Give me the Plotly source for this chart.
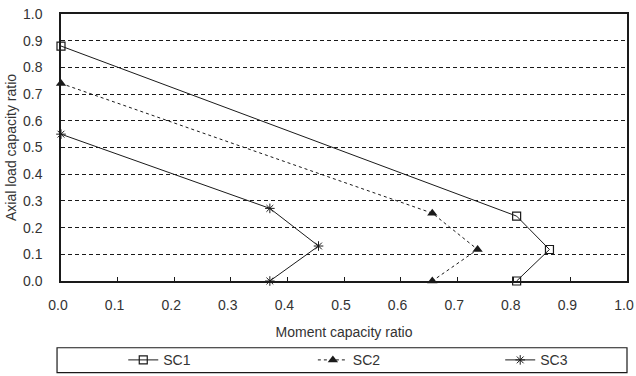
import plotly.graph_objects as go

# Interaction curves: moment capacity ratio vs axial load capacity ratio
sc1_moment = [0.0, 0.805, 0.863, 0.805]
sc1_axial = [0.88, 0.243, 0.118, 0.0]

sc2_moment = [0.0, 0.656, 0.736, 0.656]
sc2_axial = [0.74, 0.254, 0.118, 0.0]

sc3_moment = [0.0, 0.369, 0.455, 0.369]
sc3_axial = [0.55, 0.272, 0.131, 0.0]

tick_vals = [round(i * 0.1, 1) for i in range(11)]
tick_text = [f"{v:.1f}" for v in tick_vals]

FONT = "Liberation Sans, Arial, sans-serif"
INK = "#1a1a1a"
TEXT = "#333333"

fig = go.Figure()
fig.add_trace(go.Scatter(
    x=sc1_moment, y=sc1_axial, name="SC1", mode="lines+markers",
    line=dict(color=INK, width=1),
    marker=dict(symbol="square-open", size=8, color=INK, line=dict(width=1.2)),
    cliponaxis=False, legend="legend",
))
fig.add_trace(go.Scatter(
    x=sc2_moment, y=sc2_axial, name="SC2", mode="lines+markers",
    line=dict(color=INK, width=1, dash="3px,3px"),
    marker=dict(symbol="triangle-up", size=9, color=INK),
    cliponaxis=False, legend="legend2",
))
fig.add_trace(go.Scatter(
    x=sc3_moment, y=sc3_axial, name="SC3", mode="lines+markers",
    line=dict(color=INK, width=1),
    marker=dict(symbol="asterisk-open", size=8, color=INK, line=dict(width=1, color=INK)),
    cliponaxis=False, legend="legend3",
))

axis_common = dict(
    range=[0, 1],
    tickvals=tick_vals,
    ticktext=tick_text,
    showline=True,
    linecolor=INK,
    linewidth=1.5,
    mirror=True,
    zeroline=False,
    tickfont=dict(family=FONT, size=14, color=TEXT),
)

fig.update_xaxes(
    **axis_common,
    showgrid=False,
    ticks="inside",
    ticklen=4,
    tickcolor=INK,
    ticklabelstandoff=10,
    ticklabelshift=-3,
    ticklabeloverflow="allow",
    title=dict(text="Moment capacity ratio", font=dict(family=FONT, size=14, color=TEXT), standoff=16),
)
fig.update_yaxes(
    **axis_common,
    showgrid=True,
    gridcolor=INK,
    gridwidth=1,
    griddash="4px,3px",
    ticks="",
    ticklabelstandoff=14,
    title=dict(text="Axial load capacity ratio", font=dict(family=FONT, size=14, color=TEXT), standoff=3),
)

# Frame around the legend row
fig.add_shape(
    type="rect", xref="paper", yref="paper",
    x0=-0.007, x1=1.0, y0=-0.343, y1=-0.25,
    line=dict(color=INK, width=1.2), fillcolor="rgba(0,0,0,0)",
)

legend_common = dict(
    orientation="h",
    xanchor="left",
    y=-0.297, yanchor="middle",
    bgcolor="rgba(0,0,0,0)",
    borderwidth=0,
    font=dict(family=FONT, size=14, color=TEXT),
)

fig.update_layout(
    width=636, height=376,
    margin=dict(l=61, r=9, t=14, b=95, autoexpand=False),
    paper_bgcolor="white",
    plot_bgcolor="white",
    font=dict(family=FONT, size=14, color=TEXT),
    showlegend=True,
    legend=dict(x=0.110, **legend_common),
    legend2=dict(x=0.445, **legend_common),
    legend3=dict(x=0.776, **legend_common),
)

fig.write_html("out.html")
